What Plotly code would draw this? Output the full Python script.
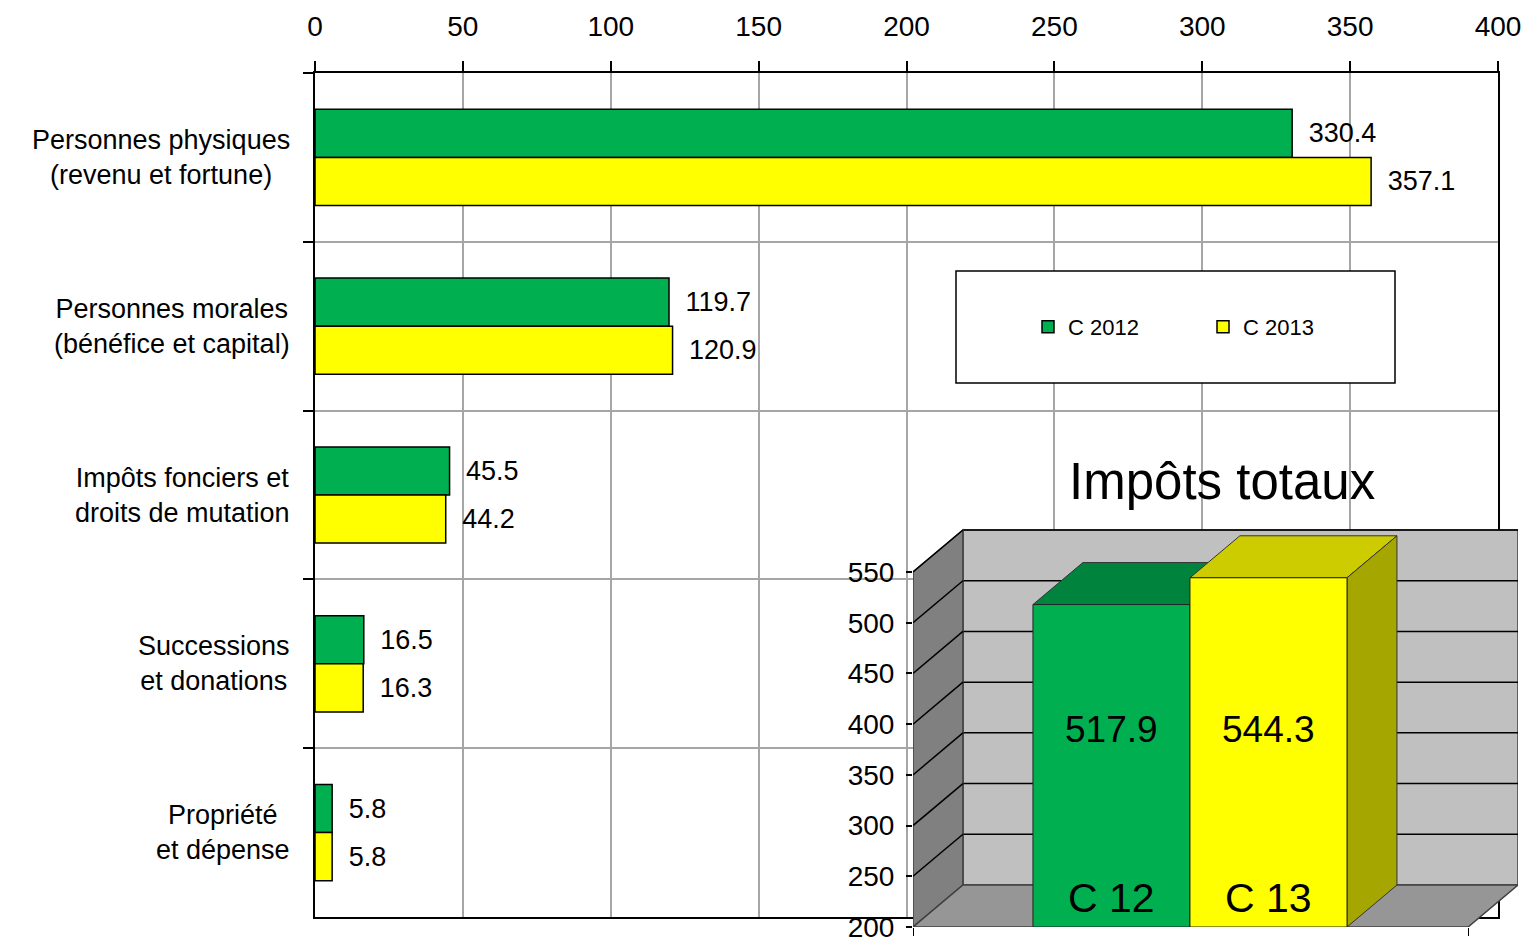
import plotly.graph_objects as go

# ---------------- data ----------------
categories = [
    "Personnes physiques<br>(revenu et fortune)",
    "Personnes morales<br>(bénéfice et capital)",
    "Impôts fonciers et<br>droits de mutation",
    "Successions<br>et donations",
    "Propriété<br>et dépense",
]
series_names = ["C 2012", "C 2013"]
values_2012 = [330.4, 119.7, 45.5, 16.5, 5.8]
values_2013 = [357.1, 120.9, 44.2, 16.3, 5.8]
x_ticks = [0, 50, 100, 150, 200, 250, 300, 350, 400]

inset_title = "Impôts totaux"
totals_labels = ["C 12", "C 13"]
totals_values = [517.9, 544.3]
totals_ticks = [200, 250, 300, 350, 400, 450, 500, 550]

# ---------------- style ----------------
W, H = 1529, 938
OFF = 8  # page body margin of the browser
FONT = "Liberation Sans, Arial, sans-serif"
GREEN, YELLOW = "#00B050", "#FFFF00"
TOP_COLORS = ["#00843D", "#CCCC00"]
SIDE_COLORS = ["#006B31", "#A6A600"]
GRID = "#A6A6A6"


def fx(px):
    return (px - OFF) / W


def fy(py):
    return 1 - (py - OFF) / H


fig = go.Figure()

# ---------------- main horizontal bars ----------------
for name, vals, col in [(series_names[0], values_2012, GREEN),
                        (series_names[1], values_2013, YELLOW)]:
    fig.add_trace(go.Bar(
        y=categories, x=vals, name=name, orientation="h",
        marker=dict(color=col, line=dict(color="black", width=1.5)),
        text=[f"\u2002{v:.1f}" for v in vals], textposition="outside",
        textfont=dict(size=27, color="black", family=FONT),
        constraintext="none", cliponaxis=False,
        xaxis="x", yaxis="y",
    ))

annotations = []
for c in categories:
    annotations.append(dict(
        text=c, x=fx(292), xref="paper", y=c, yref="y",
        xanchor="right", yanchor="middle", align="center", showarrow=False,
        font=dict(size=27, color="black", family=FONT),
    ))

# ---------------- inset 3D total bars ----------------
BAR_W = 1.0
PAD_L, PAD_R = 0.764, 0.771
DX = 0.318          # depth offset along x (category units)
DY = 41.4           # depth offset along y (value units)
Y0, YTOP, YMAX = totals_ticks[0], totals_ticks[-1], 620

x_lo = -0.5 - PAD_L
front_r = (len(totals_values) - 0.5) + PAD_R
x_hi = front_r + DX


def path(pts):
    return "M " + " L ".join(f"{x},{y}" for x, y in pts) + " Z"


shapes = []
sref = dict(xref="x2", yref="y2", layer="below")
# back wall
shapes.append(dict(type="path", path=path([(x_lo + DX, Y0 + DY), (x_hi, Y0 + DY),
                                            (x_hi, YTOP + DY), (x_lo + DX, YTOP + DY)]),
                   fillcolor="#C0C0C0", line=dict(color="#404040", width=1.5), **sref))
for v in totals_ticks[1:]:
    shapes.append(dict(type="line", x0=x_lo + DX, x1=x_hi, y0=v + DY, y1=v + DY,
                       line=dict(color="black", width=1.5), **sref))
# left wall
shapes.append(dict(type="path", path=path([(x_lo, Y0), (x_lo + DX, Y0 + DY),
                                            (x_lo + DX, YTOP + DY), (x_lo, YTOP)]),
                   fillcolor="#808080", line=dict(color="#404040", width=1.5), **sref))
for v in totals_ticks[1:]:
    shapes.append(dict(type="line", x0=x_lo, x1=x_lo + DX, y0=v, y1=v + DY,
                       line=dict(color="black", width=1.5), **sref))
# floor
shapes.append(dict(type="path", path=path([(x_lo, Y0), (front_r, Y0),
                                            (x_hi, Y0 + DY), (x_lo + DX, Y0 + DY)]),
                   fillcolor="#969696", line=dict(color="#404040", width=1.5), **sref))
# bar top / side faces (fronts are the bar traces, drawn above)
for i, v in enumerate(totals_values):
    l, r = i - BAR_W / 2, i + BAR_W / 2
    shapes.append(dict(type="path", path=path([(l, v), (r, v), (r + DX, v + DY), (l + DX, v + DY)]),
                       fillcolor=TOP_COLORS[i], line=dict(color="#333333", width=1), **sref))
    shapes.append(dict(type="path", path=path([(r, Y0), (r + DX, Y0 + DY), (r + DX, v + DY), (r, v)]),
                       fillcolor=SIDE_COLORS[i], line=dict(color="#333333", width=1), **sref))

fig.add_trace(go.Bar(
    x=list(range(len(totals_values))), y=[v - Y0 for v in totals_values], base=Y0,
    width=BAR_W, marker=dict(color=[GREEN, YELLOW], line=dict(color="#222222", width=1)),
    showlegend=False, hoverinfo="skip", xaxis="x2", yaxis="y2",
))

for i, (lab, v) in enumerate(zip(totals_labels, totals_values)):
    annotations.append(dict(text=f"{v:.1f}", x=i, y=395, xref="x2", yref="y2",
                            xanchor="center", showarrow=False,
                            font=dict(size=37, color="black", family=FONT)))
    annotations.append(dict(text=lab, x=i, y=229, xref="x2", yref="y2",
                            xanchor="center", showarrow=False,
                            font=dict(size=41, color="black", family=FONT)))

annotations.append(dict(text=inset_title, x=fx(1222), y=fy(482), xref="paper", yref="paper",
                        xanchor="center", yanchor="middle", showarrow=False,
                        font=dict(size=51, color="black", family=FONT)))

# legend frame
shapes.append(dict(type="rect", xref="paper", yref="paper",
                   x0=fx(956), x1=fx(1395), y0=fy(383), y1=fy(271),
                   fillcolor="white", line=dict(color="black", width=1.5), layer="above"))

fig.update_layout(
    width=W, height=H,
    margin=dict(l=0, r=0, t=0, b=0),
    paper_bgcolor="white", plot_bgcolor="rgba(0,0,0,0)",
    font=dict(family=FONT, color="black"),
    barmode="group", bargap=0.43, bargroupgap=0,
    xaxis=dict(
        domain=[fx(315), fx(1498)], range=[0, 400], side="top",
        tickvals=x_ticks, ticks="outside", ticklen=10, tickwidth=1.5, tickcolor="black",
        ticklabelstandoff=14,
        showgrid=True, gridcolor=GRID, gridwidth=1.5, zeroline=False,
        showline=True, linecolor="black", linewidth=2, mirror=True,
        tickfont=dict(size=28, family=FONT), anchor="y", automargin=False, fixedrange=True,
    ),
    yaxis=dict(
        domain=[fy(917), fy(73)], type="category", autorange="reversed",
        tickson="boundaries", ticks="outside", ticklen=10, tickwidth=1.5, tickcolor="black",
        showticklabels=False, showgrid=True, gridcolor=GRID, gridwidth=1.5,
        showline=True, linecolor="black", linewidth=2, mirror=True,
        anchor="x", automargin=False, fixedrange=True,
    ),
    xaxis2=dict(
        domain=[fx(913), fx(1518)], range=[x_lo, x_hi], anchor="y2",
        showgrid=False, zeroline=False, showticklabels=False,
        tickvals=[x_lo, front_r], ticks="outside", ticklen=8, tickcolor="black",
        showline=False, automargin=False, fixedrange=True,
    ),
    yaxis2=dict(
        domain=[fy(927), fy(501)], range=[Y0, YMAX], anchor="x2",
        tickvals=totals_ticks, ticks="outside", ticklen=6, tickcolor="black", tickwidth=1.5,
        ticklabelstandoff=6,
        showgrid=False, zeroline=False, showline=False,
        tickfont=dict(size=28, family=FONT), automargin=False, fixedrange=True,
    ),
    legend=dict(
        orientation="h", x=fx(1028), xanchor="left", y=fy(327), yanchor="middle",
        font=dict(size=22, family=FONT), bgcolor="rgba(0,0,0,0)", borderwidth=0,
        entrywidth=130, entrywidthmode="pixels", traceorder="normal",
    ),
    shapes=shapes,
    annotations=annotations,
)

fig.write_html("out.html")
